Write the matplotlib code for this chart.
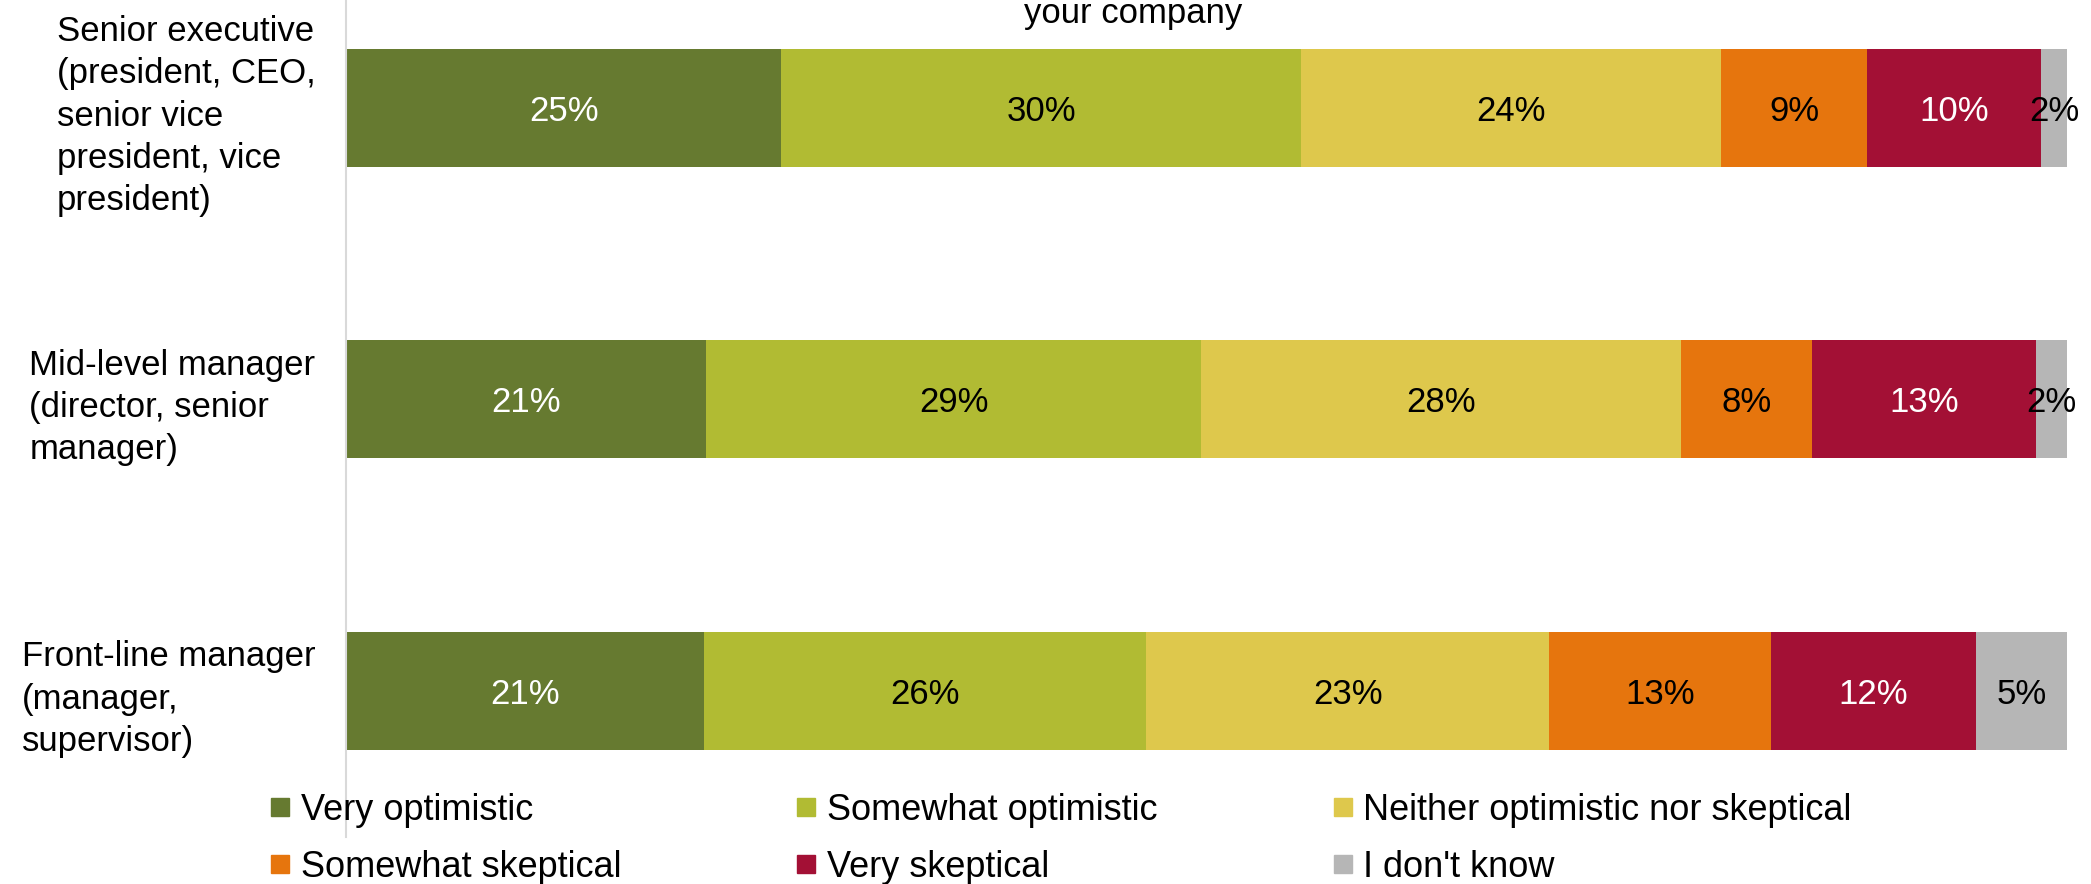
import numpy as np
import matplotlib
matplotlib.use("Agg")
import matplotlib.pyplot as plt
from matplotlib.lines import Line2D

plt.rcParams["font.family"] = ["Liberation Sans", "DejaVu Sans"]

# Данные
groups = [
    "Senior executive\n(president, CEO,\nsenior vice\npresident, vice\npresident)",
    "Mid-level manager\n(director, senior\nmanager)",
    "Front-line manager\n(manager,\nsupervisor)",
]
answers = ["Very optimistic", "Somewhat optimistic", "Neither optimistic nor skeptical",
           "Somewhat skeptical", "Very skeptical", "I don't know"]
very_opt = [25.3, 20.9, 20.8]
some_opt = [30.2, 28.8, 25.7]
neither = [24.4, 27.9, 23.4]
some_skep = [8.5, 7.6, 12.9]
very_skep = [10.1, 13.0, 11.9]
dont_know = [1.5, 1.8, 5.3]
shown = [
    [25, 21, 21],
    [30, 29, 26],
    [24, 28, 23],
    [9, 8, 13],
    [10, 13, 12],
    [2, 2, 5],
]

series = [very_opt, some_opt, neither, some_skep, very_skep, dont_know]
colors = ["#667A30", "#B1BB33", "#DEC84C", "#E6750D", "#A31035", "#B6B6B6"]
text_colors = ["white", "black", "black", "black", "white", "black"]

W, H = 2091, 884
fig = plt.figure(figsize=(W / 100, H / 100), dpi=100)
ax = fig.add_axes([346 / W, 1 - 837 / H, (2067 - 346) / W, 837 / H])

y = np.arange(len(groups))
left = np.zeros(len(groups))
for vals, col, tcol, lab in zip(series, colors, text_colors, shown):
    vals = np.array(vals)
    ax.barh(y, vals, left=left, height=0.405, color=col, edgecolor="none")
    for i in range(len(groups)):
        ax.text(left[i] + vals[i] / 2, y[i], f"{lab[i]}%", ha="center",
                va="center_baseline", fontsize=25, color=tcol)
    left += vals

ax.set_xlim(0, 100)
ax.set_ylim(2.501, -0.370)
ax.set_xticks([])
ax.set_yticks(y)
ax.set_yticklabels(groups, fontsize=25, linespacing=1.36)
for t in ax.get_yticklabels():
    t.set_multialignment("left")
ax.tick_params(axis="y", length=0, pad=22)
for s in ["top", "right", "bottom"]:
    ax.spines[s].set_visible(False)
ax.spines["left"].set_color("#D9D9D9")
ax.spines["left"].set_linewidth(1.5)

fig.text(1133 / W, 1 - 23 / H, "your company", ha="center", va="baseline", fontsize=25)

# легенда построчно (matplotlib заполняет по столбцам)
order = [0, 3, 1, 4, 2, 5]
handles = [Line2D([], [], marker="s", linestyle="none", markersize=13,
                  markerfacecolor=c, markeredgecolor=c) for c in colors]
fig.legend([handles[i] for i in order], [answers[i] for i in order], ncol=3,
           loc="upper left", bbox_to_anchor=(270 / W, 1 - 793 / H), frameon=False,
           fontsize=26, handlelength=0.55, handletextpad=0.3, columnspacing=4.85,
           labelspacing=0.6, borderpad=0, borderaxespad=0)

fig.savefig("out.png", dpi=100)
